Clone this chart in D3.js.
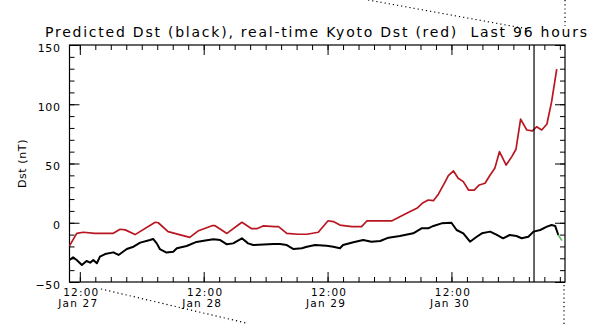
<!DOCTYPE html>
<html>
<head>
<meta charset="utf-8">
<script src="https://cdn.jsdelivr.net/npm/d3@7"></script>
<style>
  body { margin: 0; background: #fff; }
  svg { display: block; }
  text { font-family: "DejaVu Sans", sans-serif; fill: #000; }
  .tick line { stroke: #000; }
</style>
</head>
<body>
<div id="chart"></div>
<script>
const margin = {top: 45, right: 38, bottom: 42, left: 69.5};
const width = 603 - margin.left - margin.right;   // plot box 69.5 .. 565
const height = 282 - margin.top;                   // plot box 45 .. 282

// hours since Jan 27 10:00 (start of the 96 hour window)
const startTime = new Date(Date.UTC(2024, 0, 27, 10));
const spanHours = 96;
const nowHour = 90;  // vertical marker

// real-time Kyoto Dst (red)
const kyotoHours = [0, 1.4, 2.7, 4.9, 8.4, 9.8, 10.8, 12.7, 16.6, 17.2, 19.1, 23.3, 25, 27.6, 28.2,
  30.5, 33.4, 35.3, 36.3, 37.5, 39.8, 40.5, 42.1, 44.3, 46, 48.2, 50.1, 51.1, 52.4, 54.7, 56.6,
  57.6, 62.4, 64, 66, 67.3, 68.5, 69.5, 70.5, 71.5, 72.8, 73.4, 74.4, 75.3, 76.3, 77.3, 78.4,
  79.4, 80.5, 81.5, 82.4, 83.3, 84.6, 85.7, 86.5, 87.4, 88.6, 89.7, 90.5, 91.5, 92.5, 93.4, 94.4];
const kyotoDst = [-19.5, -9, -8, -9, -9, -5.5, -6, -10, 0.4, 0, -7.5, -12.3, -6.7, -2.5, -2.5,
  -9, 0.4, -5, -5, -2.7, -3.3, -3.3, -9, -9.7, -9.7, -8, 1.7, 1, -2, -3.3, -3.3,
  1.5, 1.5, 5, 9.5, 12.2, 16.9, 19.2, 18.6, 24.3, 34.7, 39.7, 43.7, 37.5, 34.7, 27.6, 27.6,
  31.9, 33.3, 40.3, 45.9, 60, 48.7, 55.8, 62, 87.5, 78.3, 77.5, 81, 78.3, 83.3, 102, 129.7];

// predicted Dst (black)
const predHours = [0, 0.7, 1.4, 2.4, 3.3, 4, 4.6, 5.3, 5.9, 6.9, 8.5, 9.5, 11.1, 12.4, 13.7, 15.6,
  16.2, 16.9, 17.5, 18.8, 20.1, 20.8, 22.7, 24.6, 26.3, 27.9, 29.2, 30.5, 31.7, 33.4, 34.6, 35.6,
  39.5, 40.8, 42.1, 43.4, 45, 46, 47.6, 49.8, 51.1, 52.4, 53, 55, 56.9, 58.5, 60.2, 61.8, 64,
  66.6, 68.2, 69.5, 70.5, 72.1, 74, 75, 76.3, 77.6, 78.9, 79.9, 81.5, 82.8, 84, 85.3, 86.6,
  87.6, 88.9, 89.9, 91.2, 92.5, 93.4, 94.1, 94.7, 95.4];
const predDst = [-31.4, -29.2, -31.4, -35.7, -32.3, -33.7, -31.4, -34.2, -28.6, -26.4, -25, -27.2,
  -22.2, -20.2, -16.8, -14.6, -13.7, -17.4, -22.2, -25.2, -24.4, -21.5, -19.6, -16.2, -15, -14,
  -14.6, -18.2, -17.4, -13.1, -17.4, -18.8, -17.9, -17.9, -18.8, -22.2, -21.5, -20.2, -18.8,
  -19.4, -20.2, -21.5, -18.8, -16.5, -14.6, -16, -15.4, -12.6, -11.2, -8.9, -4.7, -4.7, -2.7,
  -0.5, 0, -6.1, -8.9, -16, -11.8, -8.9, -7.5, -10.3, -13.1, -10.3, -11.2, -13.1, -11.8, -7.5,
  -6.1, -3.3, -1.9, -2.7, -10.3, -15.1];

const yMajor = [-50, 0, 50, 100, 150];
const yMinor = d3.range(-50, 151, 10);
const dayLabels = ["Jan 27", "Jan 28", "Jan 29", "Jan 30"];
const title = "Predicted Dst (black), real-time Kyoto Dst (red)  Last 96 hours";

function hourToDate(h) { return new Date(startTime.getTime() + h * 3600e3); }

var xScale = d3.scaleUtc()
    .domain([startTime, hourToDate(spanHours)])
    .range([0, width]);
var yScale = d3.scaleLinear().domain([-50, 150]).range([height, 0]);

var noonTicks = dayLabels.map(function (d, i) { return hourToDate(2 + 24 * i); });
var minorTicks = d3.utcHour.every(3).range(hourToDate(2), hourToDate(spanHours));

var svg = d3.select("#chart").append("svg")
    .attr("width", 603)
    .attr("height", 324);

// dotted outline pieces around the plot
var dots = svg.append("g")
    .attr("fill", "none")
    .attr("stroke", "#000")
    .attr("stroke-width", 1.2)
    .attr("stroke-dasharray", "1.2,3");
dots.append("line").attr("x1", 368).attr("y1", 0).attr("x2", 528).attr("y2", 29);
dots.append("line").attr("x1", 565).attr("y1", 0).attr("x2", 565).attr("y2", 26);
dots.append("line").attr("x1", 101).attr("y1", 289).attr("x2", 246).attr("y2", 323);
dots.append("line").attr("x1", 564).attr("y1", 285).attr("x2", 564).attr("y2", 324);

svg.append("text")
    .attr("x", 45)
    .attr("y", 37)
    .attr("textLength", 542)
    .attr("lengthAdjust", "spacing")
    .style("font-size", "14px")
    .style("white-space", "pre")
    .text(title);

var g = svg.append("g")
    .attr("transform", "translate(" + margin.left + "," + margin.top + ")");

// y axes (left labelled, right mirrored), ticks point inward
g.append("g")
    .attr("class", "y axis")
    .call(d3.axisLeft(yScale).tickValues(yMajor).tickSizeInner(-10).tickSizeOuter(0).tickPadding(9))
    .call(function (a) { a.select(".domain").remove(); })
    .selectAll("text")
    .attr("dy", "0.55em")
    .style("font-size", "11px")
    .style("letter-spacing", "0.6px");
g.append("g")
    .call(d3.axisLeft(yScale).tickValues(yMinor).tickSize(-5).tickFormat(""))
    .call(function (a) { a.select(".domain").remove(); });
g.append("g")
    .attr("transform", "translate(" + width + ",0)")
    .call(d3.axisRight(yScale).tickValues(yMajor).tickSize(-10).tickFormat(""))
    .call(function (a) { a.select(".domain").remove(); });
g.append("g")
    .attr("transform", "translate(" + width + ",0)")
    .call(d3.axisRight(yScale).tickValues(yMinor).tickSize(-5).tickFormat(""))
    .call(function (a) { a.select(".domain").remove(); });

// x axes: two-line labels, time on top and day below
var xBottom = g.append("g")
    .attr("class", "x axis")
    .attr("transform", "translate(0," + height + ")")
    .call(d3.axisBottom(xScale).tickValues(noonTicks).tickSizeInner(-10).tickSizeOuter(0)
        .tickFormat(""))
    .call(function (a) { a.select(".domain").remove(); });
xBottom.selectAll(".tick text").remove();
xBottom.selectAll(".tick").each(function (d, i) {
    var tk = d3.select(this);
    tk.append("text")
        .attr("x", 1)
        .attr("y", 13.5)
        .attr("text-anchor", "middle")
        .style("font-size", "10.5px")
        .style("letter-spacing", "1.2px")
        .text("12:00");
    tk.append("text")
        .attr("x", -2)
        .attr("y", 25)
        .attr("text-anchor", "middle")
        .style("font-size", "10.5px")
        .style("letter-spacing", "1.2px")
        .text(dayLabels[i]);
});
g.append("g")
    .attr("transform", "translate(0," + height + ")")
    .call(d3.axisBottom(xScale).tickValues(minorTicks).tickSize(-5).tickFormat(""))
    .call(function (a) { a.select(".domain").remove(); });
g.append("g")
    .call(d3.axisTop(xScale).tickValues(noonTicks).tickSize(-10).tickFormat(""))
    .call(function (a) { a.select(".domain").remove(); });
g.append("g")
    .call(d3.axisTop(xScale).tickValues(minorTicks).tickSize(-5).tickFormat(""))
    .call(function (a) { a.select(".domain").remove(); });

g.append("rect")
    .attr("width", width)
    .attr("height", height)
    .attr("fill", "none")
    .attr("stroke", "#000")
    .attr("stroke-width", 1.2);

svg.append("text")
    .attr("transform", "translate(26," + (margin.top + yScale(50)) + ") rotate(-90)")
    .attr("text-anchor", "middle")
    .style("font-size", "11px")
    .style("letter-spacing", "0.6px")
    .text("Dst (nT)");

var line = d3.line()
    .x(function (d) { return xScale(hourToDate(d[0])); })
    .y(function (d) { return yScale(d[1]); });

var kyoto = kyotoHours.map(function (h, i) { return [h, kyotoDst[i]]; });
var pred = predHours.map(function (h, i) { return [h, predDst[i]]; });

g.append("path")
    .datum(kyoto)
    .attr("fill", "none")
    .attr("stroke", "#b81620")
    .attr("stroke-width", 1.7)
    .attr("stroke-linejoin", "round")
    .attr("d", line);

g.append("path")
    .datum(pred.slice(0, pred.length - 1))
    .attr("fill", "none")
    .attr("stroke", "#000")
    .attr("stroke-width", 2)
    .attr("stroke-linejoin", "round")
    .attr("d", line);

g.append("path")
    .datum(pred.slice(pred.length - 2))
    .attr("fill", "none")
    .attr("stroke", "#5cb85c")
    .attr("stroke-width", 1.6)
    .attr("d", line);

g.append("line")
    .attr("x1", xScale(hourToDate(nowHour)))
    .attr("x2", xScale(hourToDate(nowHour)))
    .attr("y1", 0)
    .attr("y2", height)
    .attr("stroke", "#000")
    .attr("stroke-width", 1.2);
</script>
</body>
</html>
